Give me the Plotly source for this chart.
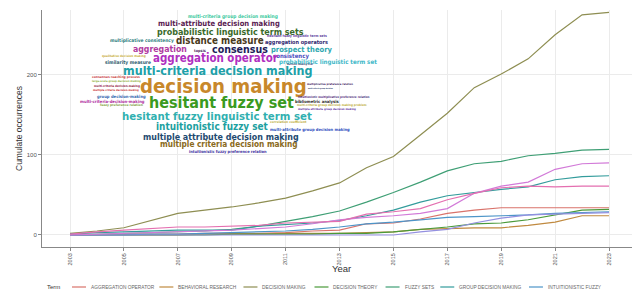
import plotly.graph_objects as go

# ---------------- data ----------------
years = list(range(2003, 2024))
aggregation_operator = [0, 0, 1, 1, 1, 2, 2, 2, 3, 5, 6, 14, 15, 20, 27, 31, 34, 34, 34, 34, 34]
behavioral_research = [0, 0, 0, 0, 0, 1, 1, 1, 2, 2, 2, 3, 4, 7, 8, 9, 9, 12, 16, 24, 24]
decision_making = [2, 5, 9, 18, 27, 31, 35, 40, 46, 55, 65, 84, 98, 125, 152, 184, 201, 220, 250, 275, 278]
decision_theory = [0, 0, 0, 0, 0, 0, 1, 1, 1, 1, 2, 2, 4, 7, 10, 14, 15, 19, 25, 31, 32]
fuzzy_sets = [0, 1, 2, 3, 4, 5, 7, 11, 17, 23, 30, 41, 53, 66, 80, 89, 92, 99, 102, 106, 107]
group_decision_making = [1, 3, 4, 5, 6, 6, 6, 11, 13, 15, 18, 24, 31, 41, 49, 53, 57, 60, 69, 73, 74]
intuitionistic_fuzzy = [0, 0, 0, 1, 1, 2, 3, 4, 5, 7, 10, 14, 16, 19, 22, 23, 24, 25, 27, 28, 29]
linguistic_term_set = [0, 0, 0, 0, 0, 0, 0, 0, 0, 0, 0, 0, 0, 4, 7, 15, 21, 25, 26, 27, 28]
multi_criteria_dm = [0, 1, 2, 3, 4, 5, 6, 8, 10, 14, 19, 22, 24, 27, 33, 52, 61, 66, 82, 89, 90]
multiple_criteria_dm = [1, 4, 6, 8, 10, 10, 11, 12, 15, 16, 17, 26, 29, 33, 44, 52, 59, 61, 60, 61, 61]

terms = ["AGGREGATION OPERATOR", "BEHAVIORAL RESEARCH", "DECISION MAKING", "DECISION THEORY",
         "FUZZY SETS", "GROUP DECISION MAKING", "INTUITIONISTIC FUZZY",
         "LINGUISTIC TERM SET", "MULTI-CRITERIA DECISION MAKING", "MULTIPLE CRITERIA DECISION MAKING"]
series = [aggregation_operator, behavioral_research, decision_making, decision_theory, fuzzy_sets,
          group_decision_making, intuitionistic_fuzzy, linguistic_term_set, multi_criteria_dm,
          multiple_criteria_dm]
legend_terms = terms[:7]
x_ticks = list(range(2003, 2024, 2))
y_ticks = [0, 100, 200]

cloud_words = [
    "multi-criteria group decision making", "multi-attribute decision making",
    "probabilistic linguistic term sets", "multiplicative consistency", "distance measure",
    "aggregation operators", "aggregation", "topsis", "consensus", "prospect theory",
    "qualitative decision making", "consistency", "similarity measure", "aggregation operator",
    "probabilistic linguistic term set", "multi-criteria decision making", "decision making",
    "hesitant fuzzy set", "hesitant fuzzy linguistic term set", "intuitionistic fuzzy set",
    "correlation coefficient", "multi-attribute group decision making",
    "multiple attribute decision making", "multiple criteria decision making",
    "intuitionistic fuzzy preference relation",
    "consensus reaching process", "large-scale group decision making",
    "multi-criteria decision-making", "multiple criteria decision-making",
    "group decision-making", "multi-criteria-decision-making", "fuzzy preference relation",
    "multiplicative preference relation", "multi-criteria group decision",
    "intuitionistic multiplicative preference relation", "bibliometric analysis",
    "multi-criteria group decision making problem", "multiple attribute group decision making",
    "hesitant fuzzy linguistic term sets", "decision making trial",
]

# ---------------- styles / layout ----------------
colors = ["#d9736b", "#c08a40", "#8e8e52", "#4a9a3a", "#3f9f75", "#339c9c", "#4d95c8",
          "#9490e0", "#d27ad8", "#e46fb0"]

OFF = 8                     # page body margin of the browser
W, H = 640 - OFF, 293 - OFF
L, R, T, B = 42 - OFF, 0, 10 - OFF, 46
PW, PH = W - L - R, H - T - B


def to_paper(px, py):
    fx, fy = px - OFF, py - OFF
    return (fx - L) / PW, (H - B - fy) / PH


# (center x px, center y px, target width px, colour) for each cloud word (page pixels)
cloud_place = [
    (233, 17, 90, "#3ccaa0"), (219, 24, 122, "#5a2252"), (230, 32, 147, "#3a6a2a"),
    (142, 41, 64, "#2f8080"), (220, 40, 88, "#4a3a20"), (296, 42, 63, "#302870"),
    (160, 49, 54, "#b03aa0"), (200, 50, 12, "#503060"), (240, 49, 56, "#1e1e5a"),
    (301, 49, 61, "#30a8b0"), (124, 56, 44, "#c8b040"), (291, 56, 36, "#5050c0"),
    (128, 62, 46, "#306070"), (216, 58, 125, "#b030c0"), (328, 62, 98, "#40b8c8"),
    (218, 70, 190, "#20a0a8"), (223, 86, 167, "#c8882a"), (221, 102, 145, "#3a9a20"),
    (217, 116, 190, "#30b0b0"), (212, 127, 112, "#20a0a0"), (288, 122, 37, "#c0b040"),
    (310, 129, 80, "#3050c0"), (221, 137, 156, "#1e4a70"), (229, 144, 138, "#8a6a20"),
    (228, 151, 78, "#4030a0"),
    (116, 77, 48, "#c83838"), (116, 81, 49, "#90b040"), (117, 86, 46, "#902040"),
    (116, 90, 46, "#c83030"), (121, 97, 49, "#3a6ab0"), (112, 101, 65, "#b030a0"),
    (121, 105, 43, "#80a040"), (330, 84, 46, "#402060"), (320, 88, 25, "#203060"),
    (334, 97, 72, "#503080"), (317, 101, 44, "#303030"), (332, 105, 70, "#c0b040"),
    (327, 109, 58, "#6030a0"), (297, 36, 60, "#6040a0"), (300, 64, 26, "#303060"),
]

CLOUD_FONT = "DejaVu Sans Condensed"
# approximate advance widths (em) of DejaVu Sans Condensed Bold
_dv = dict(a=.675, b=.716, c=.593, d=.716, e=.678, f=.435, g=.716, h=.712, i=.343, j=.343,
           k=.665, l=.343, m=1.042, n=.712, o=.687, p=.716, q=.716, r=.493, s=.595, t=.478,
           u=.712, v=.652, w=.924, x=.645, y=.652, z=.582)
_dv[" "] = .348
_dv["-"] = .416


def cloud_em(word):
    return 0.9 * sum(_dv.get(ch, .65) for ch in word)


fig = go.Figure()
for name, vals, col in zip(terms, series, colors):
    fig.add_trace(go.Scatter(x=years, y=vals, mode="lines", name=name,
                             line=dict(color=col, width=1.2), showlegend=False))

shapes = []
annotations = []

# white box behind the word cloud
x0, y0 = to_paper(66, 157)
x1, y1 = to_paper(386, 8)
shapes.append(dict(type="rect", xref="paper", yref="paper", x0=x0, x1=x1, y0=y0, y1=y1,
                   fillcolor="white", line=dict(width=0), layer="between"))

for word, (cx, cy, w, col) in zip(cloud_words, cloud_place):
    size = w / cloud_em(word)
    xp, yp = to_paper(cx, cy)
    annotations.append(dict(text=word, x=xp, y=yp, xref="paper", yref="paper", showarrow=False,
                            xanchor="center", yanchor="middle",
                            font=dict(family=CLOUD_FONT, size=size, color=col, weight="bold")))


# manual legend row
def text_w(s, f):
    wsum = 0
    for ch in s:
        if ch == " ":
            wsum += 0.28
        elif ch == "-":
            wsum += 0.33
        else:
            wsum += 0.68
    return wsum * f


LEG_F = 4.8
LEG_FONT = "Liberation Sans, Arial, sans-serif"
leg_y = 287
xp, yp = to_paper(45, leg_y)
annotations.append(dict(text="Term", x=xp, y=yp, xref="paper", yref="paper", showarrow=False,
                        xanchor="left", yanchor="middle",
                        font=dict(family=LEG_FONT, size=6, color="#333")))
cur = 72
for name, col in zip(legend_terms, colors):
    a, b = to_paper(cur, leg_y)
    c, _ = to_paper(cur + 14, leg_y)
    shapes.append(dict(type="line", xref="paper", yref="paper", x0=a, x1=c, y0=b, y1=b,
                       line=dict(color=col, width=1.2)))
    tx, _ = to_paper(cur + 17, leg_y)
    annotations.append(dict(text=name, x=tx, y=b, xref="paper", yref="paper", showarrow=False,
                            xanchor="left", yanchor="middle",
                            font=dict(family=LEG_FONT, size=LEG_F, color="#666")))
    cur += 17 + text_w(name, LEG_F) + 7

# x axis title placed as text under the axis
xt, yt = to_paper(341, 268)
annotations.append(dict(text="Year", x=xt, y=yt, xref="paper", yref="paper", showarrow=False,
                        xanchor="center", yanchor="middle",
                        font=dict(family=LEG_FONT, size=9.5, color="#333")))

fig.update_layout(
    template="none",
    width=W, height=H,
    margin=dict(l=L, r=R, t=T, b=B, pad=0),
    paper_bgcolor="white", plot_bgcolor="white",
    showlegend=False,
    shapes=shapes, annotations=annotations,
    font=dict(family=LEG_FONT),
)
fig.update_xaxes(
    range=[2001.96, 2024.15], tickvals=x_ticks, ticktext=[str(v) for v in x_ticks],
    tickangle=-90, ticks="outside", ticklen=3, tickcolor="#888", tickwidth=1,
    showline=True, linecolor="#888", linewidth=1, mirror=False,
    showgrid=True, gridcolor="#ebebeb", gridwidth=1, zeroline=False,
    tickfont=dict(size=5.5, color="#555"), automargin=False,
)
fig.update_yaxes(
    range=[-15, 281], tickvals=y_ticks, ticks="outside", ticklen=3, tickcolor="#888",
    showline=True, linecolor="#888", linewidth=1,
    showgrid=True, gridcolor="#ebebeb", gridwidth=1, zeroline=False,
    tickfont=dict(size=6, color="#555"), automargin=False,
    title=dict(text="Cumulate occurrences", font=dict(size=8.5, color="#333"), standoff=2),
)

fig.write_html("out.html")
